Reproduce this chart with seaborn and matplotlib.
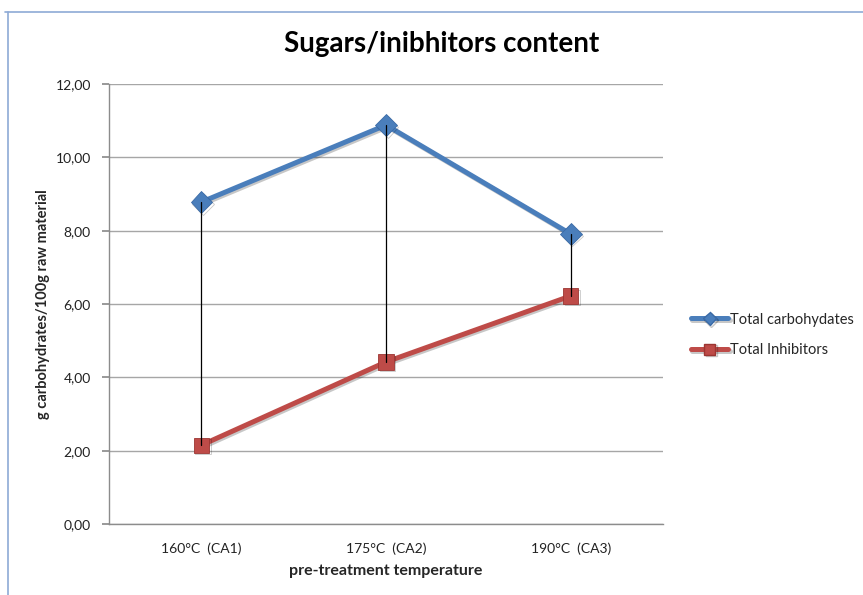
import matplotlib
matplotlib.use("Agg")
import matplotlib.pyplot as plt
import matplotlib.patheffects as pe
from matplotlib.lines import Line2D
from matplotlib.ticker import FuncFormatter
import seaborn as sns
import pandas as pd

# Values per pre-treatment temperature
temperatures = ["160°C  (CA1)", "175°C  (CA2)", "190°C  (CA3)"]
total_carbohydrates = [8.78, 10.88, 7.91]
total_inhibitors = [2.15, 4.42, 6.22]
series_names = ["Total carbohydates", "Total Inhibitors"]

df = pd.DataFrame({
    "temperature": temperatures * 2,
    "value": total_carbohydrates + total_inhibitors,
    "series": [series_names[0]] * 3 + [series_names[1]] * 3,
})

sns.set_theme(style="white")
plt.rcParams["font.family"] = ["Lato", "DejaVu Sans"]

fig = plt.figure(figsize=(8.63, 5.95), dpi=100)
ax = fig.add_axes([0.1263, 0.1193, 0.6420, 0.7395])

blue = "#4a7ebb"
red = "#be4b48"
shadow = [pe.SimpleLineShadow(offset=(1.2, -1.2), alpha=0.22, shadow_color="black"),
          pe.Normal()]

sns.lineplot(data=df, x="temperature", y="value", hue="series",
             style="series", palette=[blue, red], markers=["D", "s"],
             dashes=False, sort=False, lw=3.6, markersize=11,
             markeredgewidth=0.6, ax=ax, legend=False, zorder=3)
for ln, ec in zip(ax.lines[-2:], ["#3a6aa6", "#9c3532"]):
    ln.set_markeredgecolor(ec)
    ln.set_path_effects(shadow)

# high-low connectors between the two series
for i, t in enumerate(temperatures):
    ax.plot([i, i], [total_inhibitors[i], total_carbohydrates[i]],
            color="black", lw=0.9, zorder=4)

ax.set_xlim(-0.5, 2.5)
ax.set_ylim(0, 12)
ax.set_yticks(range(0, 13, 2))
ax.yaxis.set_major_formatter(FuncFormatter(lambda v, p: f"{v:.2f}".replace(".", ",")))
ax.grid(axis="y", color="#a6a6a6", lw=1)
ax.set_axisbelow(True)
for s in ["top", "right"]:
    ax.spines[s].set_visible(False)
for s in ["left", "bottom"]:
    ax.spines[s].set_color("#8c8c8c")
    ax.spines[s].set_linewidth(1)
ax.tick_params(axis="y", left=True, length=5, color="#8c8c8c", labelsize=10,
               labelcolor="#222222", pad=8)
ax.tick_params(axis="x", bottom=False, labelsize=10, labelcolor="#222222", pad=7)

ax.set_xlabel("pre-treatment temperature", fontsize=11.5, fontweight="bold",
              labelpad=7)
ax.set_ylabel("g carbohydrates/100g raw material", fontsize=10.5,
              fontweight="bold", labelpad=4)
fig.text(0.5116, 0.926, "Sugars/inibhitors content", ha="center", va="center",
         fontsize=20, fontweight="bold", color="black")

handles = [
    Line2D([], [], color=blue, lw=3.6, marker="D", markersize=7,
           markeredgecolor="#3a6aa6", path_effects=shadow),
    Line2D([], [], color=red, lw=3.6, marker="s", markersize=8,
           markeredgecolor="#9c3532", path_effects=shadow),
]
fig.legend(handles, series_names, loc="center left",
           bbox_to_anchor=(0.785, 0.437), frameon=False, fontsize=10.5,
           handlelength=2.6, handletextpad=0.1, labelspacing=1.15)

# outer chart frame
fig.add_artist(Line2D([0.006, 1.0], [0.98, 0.98], transform=fig.transFigure,
                      color="#8eaad6", lw=1.2))
fig.add_artist(Line2D([0.009, 0.009], [0.0, 0.98], transform=fig.transFigure,
                      color="#8eaad6", lw=1.2))

fig.savefig("out.png", dpi=100)
